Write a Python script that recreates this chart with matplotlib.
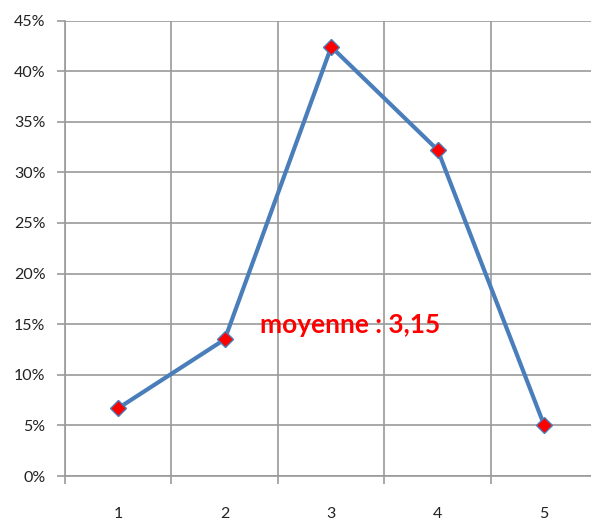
import numpy as np
import matplotlib.pyplot as plt
from matplotlib.ticker import FixedLocator, PercentFormatter

categories = [1, 2, 3, 4, 5]
values = [6.7, 13.5, 42.4, 32.2, 5.0]  # percent
note = "moyenne : 3,15"

plt.rcParams['font.family'] = ['Lato', 'DejaVu Sans']

fig = plt.figure(figsize=(5.91, 5.20), dpi=100)
# axes run a little past the right edge, like the cropped original
ax = fig.add_axes([65/591, 1 - 476/520, 532.5/591, (476 - 20.5)/520])

grid_col = "#9a9a9a"
ax.set_xlim(0.5, 5.5)
ax.set_ylim(0, 45)
ax.set_yticks(np.arange(0, 46, 5))
ax.yaxis.set_major_formatter(PercentFormatter(decimals=0))
ax.set_xticks(categories)
ax.xaxis.set_minor_locator(FixedLocator([0.5, 1.5, 2.5, 3.5, 4.5]))

ax.grid(True, axis='y', which='major', color=grid_col, lw=1.2)
ax.grid(True, axis='x', which='minor', color=grid_col, lw=1.2)
ax.set_axisbelow(True)

for s in ['top', 'right']:
    ax.spines[s].set_visible(False)
for s in ['left', 'bottom']:
    ax.spines[s].set_color(grid_col)
    ax.spines[s].set_linewidth(1.2)

ax.tick_params(axis='y', length=6, width=1.2, color=grid_col, pad=8, labelsize=11.5, labelcolor='#222222')
ax.tick_params(axis='x', which='major', length=0, pad=22, labelsize=11.5, labelcolor='#222222')
ax.tick_params(axis='x', which='minor', length=6, width=1.2, color=grid_col)

ax.plot(categories, values, color='#4a7ebb', lw=3, marker='D', ms=8.5,
        mfc='red', mec='#4a7ebb', mew=1, zorder=3)

ax.text(2.33, 14.9, note, color='red', fontsize=19, fontweight='bold',
        ha='left', va='center')

fig.savefig("out.png", dpi=100)
